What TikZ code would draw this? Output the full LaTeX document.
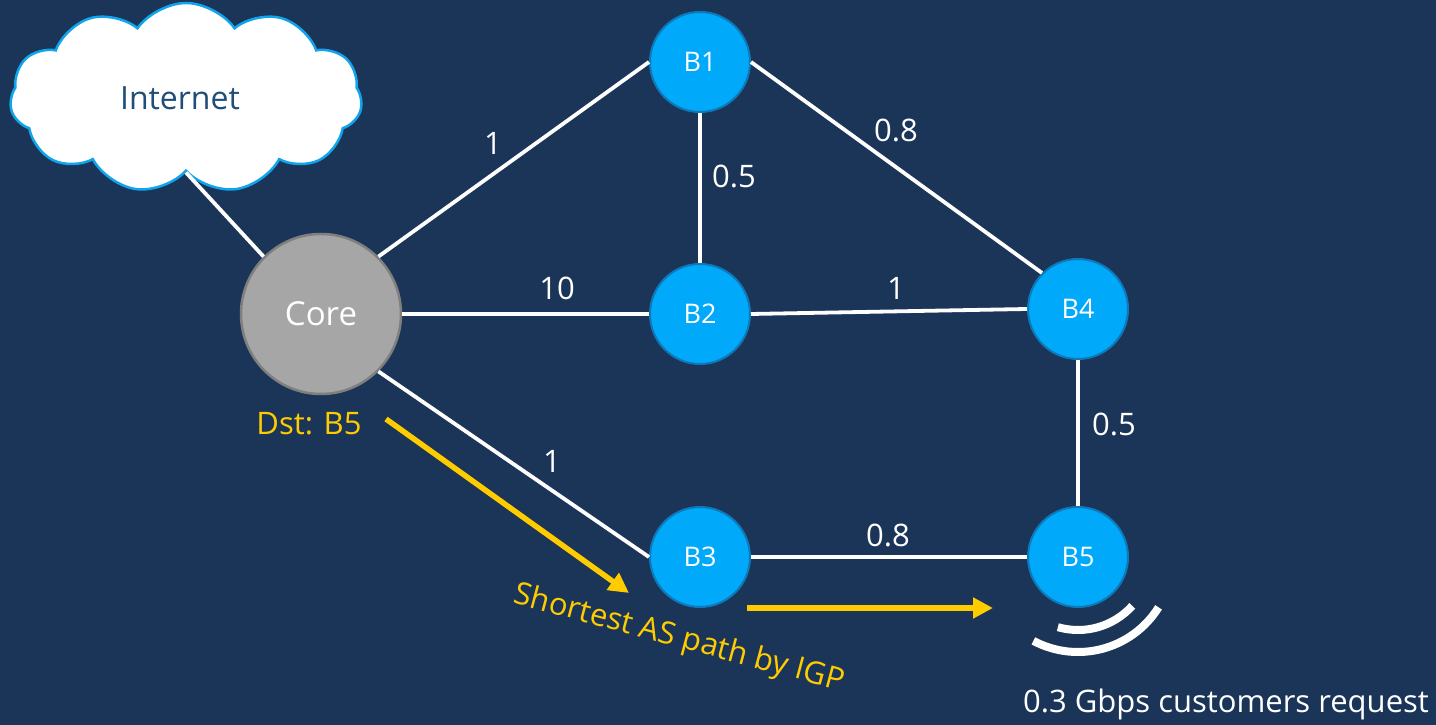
\documentclass[tikz,border=0pt]{standalone}
\usepackage{fontspec}
\setmainfont{Open Sans}
\usetikzlibrary{shapes.symbols,arrows.meta}
\definecolor{bg}{HTML}{1B3558}
\definecolor{nodeblue}{HTML}{00A9FA}
\definecolor{nodeborder}{HTML}{0E78B8}
\definecolor{coregray}{HTML}{A6A6A6}
\definecolor{coreborder}{HTML}{7F7F7F}
\definecolor{gold}{HTML}{FFCC00}
\definecolor{cloudblue}{HTML}{10A4EC}
\definecolor{inettext}{HTML}{1F4E79}
\tikzset{
  bnode/.style={circle, fill=nodeblue, draw=nodeborder, line width=2pt, minimum size=100pt, inner sep=0pt, text=white, font=\fontsize{27}{30}\selectfont},
  corenode/.style={circle, fill=coregray, draw=coreborder, line width=2.5pt, minimum size=160pt, inner sep=0pt, text=white, font=\fontsize{33}{36}\selectfont},
  edge/.style={draw=white, line width=3.8pt},
  lbl/.style={text=white, font=\fontsize{31}{34}\selectfont, inner sep=0pt},
  ylbl/.style={text=gold, font=\fontsize{31}{34}\selectfont, inner sep=0pt},
  yarrow/.style={draw=gold, line width=5.5pt, -{Triangle[length=20pt,width=20pt]}},
  sig/.style={draw=white, line width=8pt}
}
\begin{document}
\begin{tikzpicture}[x=1pt,y=1pt]
\fill[bg] (0,0) rectangle (1436,725);
\useasboundingbox (0,0) rectangle (1436,725);

\node[cloud, cloud puffs=11, cloud puff arc=110, aspect=1.9, draw=cloudblue, fill=white, line width=2.5pt, minimum width=352pt, minimum height=190pt, text=inettext, font=\fontsize{32}{36}\selectfont, text width=190pt, align=left] (inet) at (186,627) {\hspace*{-12pt}\hfill Internet\hfill\null};

\node[corenode] (core) at (321,411) {Core};
\node[bnode] (B1) at (700,663) {B1};
\node[bnode] (B2) at (700,411) {B2};
\node[bnode] (B3) at (700,168) {B3};
\node[bnode] (B4) at (1078,416) {B4};
\node[bnode] (B5) at (1078,168) {B5};

\draw[edge] (inet.south) -- (core.135);
\draw[edge] (core.45) -- (B1.west);
\draw[edge] (core.east) -- (B2.west);
\draw[edge] (core.-45) -- (B3.west);
\draw[edge] (B1.south) -- (B2.north);
\draw[edge] (B1.east) -- (B4.135);
\draw[edge] (B2.east) -- (B4.west);
\draw[edge] (B4.south) -- (B5.north);
\draw[edge] (B3.east) -- (B5.west);

\node[lbl] (l1) at (493,582) {1};
\node[lbl] (l2) at (734,549) {0.5};
\node[lbl] (l3) at (896,595) {0.8};
\node[lbl] (l4) at (557,437) {10};
\node[lbl] (l5) at (896,437) {1};
\node[lbl] (l6) at (1114,301) {0.5};
\node[lbl] (l7) at (552,264) {1};
\node[lbl] (l8) at (888,190) {0.8};

\node[ylbl] (dst) at (309,301) {Dst: B5};
\node[ylbl, rotate=-15] (sp) at (679,86) {Shortest AS path by IGP};

\coordinate (ya1) at (386,306);
\coordinate (ya2) at (629,132);
\coordinate (yb1) at (747,117);
\coordinate (yb2) at (993,117);
\draw[yarrow] (ya1) -- (ya2);
\draw[yarrow] (yb1) -- (yb2);

\draw[sig] ([shift={(254:73)}]B5.center) arc[start angle=254, end angle=318, radius=73];
\draw[sig] ([shift={(242:95)}]B5.center) arc[start angle=242, end angle=328, radius=95];

\node[lbl] (req) at (1226,21) {0.3 Gbps customers request};
\end{tikzpicture}
\end{document}
